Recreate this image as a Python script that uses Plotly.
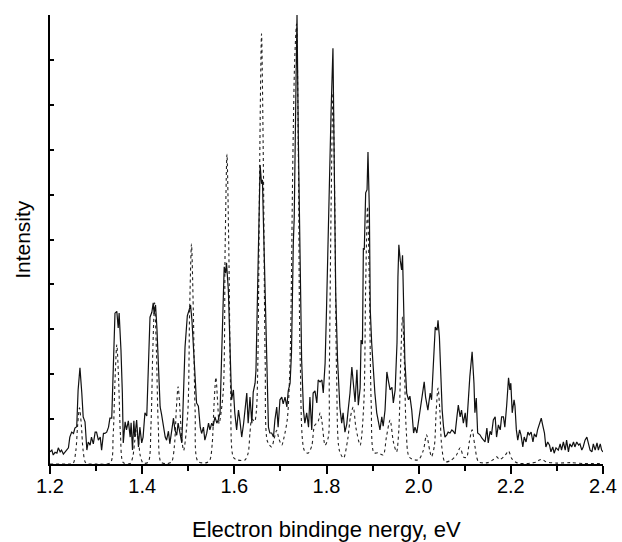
import plotly.graph_objects as go

# measured spectrum (solid line)
energy_exp = [
    1.200, 1.204, 1.207, 1.211, 1.215, 1.218, 1.222, 1.225, 1.229, 1.233,
    1.236, 1.240, 1.243, 1.247, 1.251, 1.254, 1.258, 1.261, 1.265, 1.269,
    1.272, 1.276, 1.280, 1.283, 1.287, 1.290, 1.294, 1.298, 1.301, 1.305,
    1.309, 1.312, 1.316, 1.319, 1.323, 1.327, 1.330, 1.334, 1.337, 1.341,
    1.345, 1.348, 1.350, 1.354, 1.357, 1.359, 1.363, 1.366, 1.370, 1.374,
    1.376, 1.379, 1.382, 1.384, 1.388, 1.392, 1.395, 1.399, 1.402, 1.406,
    1.410, 1.413, 1.417, 1.421, 1.424, 1.426, 1.429, 1.432, 1.435, 1.439,
    1.442, 1.446, 1.450, 1.453, 1.457, 1.460, 1.464, 1.468, 1.471, 1.475,
    1.478, 1.482, 1.486, 1.489, 1.493, 1.498, 1.502, 1.505, 1.508, 1.511,
    1.515, 1.518, 1.522, 1.526, 1.529, 1.533, 1.536, 1.540, 1.544, 1.547,
    1.551, 1.554, 1.558, 1.562, 1.565, 1.569, 1.572, 1.578, 1.581, 1.583,
    1.587, 1.591, 1.594, 1.598, 1.601, 1.605, 1.609, 1.612, 1.616, 1.620,
    1.623, 1.627, 1.630, 1.634, 1.638, 1.641, 1.645, 1.647, 1.651, 1.654,
    1.656, 1.659, 1.661, 1.662, 1.665, 1.668, 1.671, 1.674, 1.677, 1.681,
    1.685, 1.688, 1.692, 1.695, 1.699, 1.703, 1.706, 1.710, 1.714, 1.717,
    1.721, 1.724, 1.728, 1.730, 1.734, 1.736, 1.739, 1.743, 1.746, 1.750,
    1.753, 1.757, 1.761, 1.764, 1.768, 1.771, 1.775, 1.779, 1.782, 1.786,
    1.790, 1.793, 1.797, 1.800, 1.805, 1.810, 1.814, 1.817, 1.820, 1.824,
    1.829, 1.833, 1.836, 1.840, 1.844, 1.847, 1.851, 1.855, 1.858, 1.862,
    1.866, 1.869, 1.873, 1.875, 1.878, 1.880, 1.882, 1.885, 1.888, 1.890,
    1.893, 1.895, 1.898, 1.902, 1.905, 1.909, 1.913, 1.916, 1.920, 1.923,
    1.927, 1.931, 1.934, 1.938, 1.942, 1.945, 1.949, 1.953, 1.955, 1.957,
    1.960, 1.963, 1.965, 1.968, 1.970, 1.974, 1.978, 1.981, 1.985, 1.989,
    1.992, 1.996, 1.999, 2.003, 2.007, 2.012, 2.015, 2.020, 2.022, 2.025,
    2.028, 2.031, 2.034, 2.036, 2.040, 2.042, 2.045, 2.048, 2.051, 2.054,
    2.057, 2.061, 2.064, 2.068, 2.072, 2.075, 2.079, 2.083, 2.086, 2.090,
    2.093, 2.097, 2.101, 2.104, 2.108, 2.111, 2.116, 2.120, 2.122, 2.125,
    2.128, 2.133, 2.137, 2.140, 2.144, 2.148, 2.151, 2.155, 2.158, 2.162,
    2.166, 2.169, 2.173, 2.177, 2.180, 2.184, 2.187, 2.191, 2.193, 2.195,
    2.198, 2.200, 2.203, 2.207, 2.209, 2.212, 2.215, 2.219, 2.222, 2.226,
    2.229, 2.233, 2.237, 2.240, 2.244, 2.248, 2.251, 2.255, 2.258, 2.262,
    2.266, 2.269, 2.273, 2.276, 2.280, 2.284, 2.287, 2.291, 2.294, 2.298,
    2.303, 2.307, 2.310, 2.314, 2.318, 2.321, 2.325, 2.328, 2.332, 2.336,
    2.339, 2.343, 2.347, 2.350, 2.354, 2.357, 2.361, 2.365, 2.368, 2.372,
    2.376, 2.379, 2.383, 2.387, 2.390, 2.394, 2.397, 2.400,
]
intensity_exp = [
    2.7, 3.1, 2.0, 2.6, 2.4, 3.6, 2.7, 3.1, 2.2, 2.6,
    3.1, 3.6, 6.0, 7.1, 6.8, 8.0, 8.3, 16.5, 21.4, 15.8,
    10.5, 9.4, 3.1, 4.9, 4.2, 6.0, 4.5, 7.1, 7.1, 5.3,
    6.0, 3.1, 6.8, 6.8, 7.1, 8.2, 10.2, 10.2, 19.4, 33.6,
    34.0, 30.3, 33.6, 25.4, 15.8, 4.7, 9.4, 7.6, 9.6, 6.0,
    9.2, 3.1, 9.6, 6.0, 9.8, 3.8, 8.2, 4.7, 6.0, 11.4,
    10.7, 21.0, 32.7, 33.8, 35.9, 33.4, 35.4, 30.3, 23.2, 12.7,
    11.1, 8.2, 6.0, 5.3, 7.3, 4.5, 7.8, 10.2, 7.6, 6.4,
    9.1, 6.8, 4.7, 13.6, 26.0, 33.0, 34.7, 35.4, 32.0, 27.0,
    19.4, 13.6, 12.9, 8.2, 6.8, 8.2, 5.3, 6.8, 9.1, 7.6,
    9.1, 8.4, 10.5, 9.1, 9.8, 11.4, 22.5, 43.9, 42.5, 44.8,
    38.8, 27.0, 14.3, 16.5, 11.4, 7.6, 12.0, 9.8, 6.0, 8.9,
    12.0, 15.8, 9.1, 14.9, 9.1, 16.0, 18.0, 21.0, 41.6, 56.6,
    66.6, 62.4, 63.3, 58.8, 45.4, 30.5, 19.4, 8.2, 6.9, 6.9,
    6.0, 9.8, 12.7, 8.2, 14.3, 14.9, 13.4, 14.9, 12.7, 16.3,
    18.0, 24.7, 49.2, 55.0, 86.2, 100.0, 71.5, 38.0, 23.2, 12.0,
    9.1, 11.4, 8.2, 14.9, 7.6, 15.8, 16.3, 13.6, 18.7, 18.3,
    18.7, 15.8, 22.5, 34.3, 60.4, 78.8, 92.6, 64.0, 38.0, 23.2,
    12.7, 9.1, 11.4, 7.1, 8.9, 12.0, 15.8, 21.6, 18.7, 13.8,
    21.0, 13.1, 16.9, 27.6, 26.7, 48.1, 47.7, 60.4, 61.1, 69.5,
    56.6, 34.3, 27.0, 19.4, 15.8, 11.4, 9.1, 7.6, 10.5, 8.4,
    12.0, 20.5, 18.7, 16.5, 17.1, 13.6, 16.5, 27.0, 41.6, 48.8,
    45.4, 43.2, 46.5, 34.3, 23.2, 15.8, 14.3, 15.1, 12.0, 6.9,
    8.2, 6.9, 9.1, 12.7, 15.8, 18.3, 14.9, 12.0, 13.6, 15.8,
    14.3, 21.0, 27.0, 30.5, 29.8, 32.0, 28.3, 19.4, 12.0, 8.2,
    6.0, 6.5, 7.1, 6.9, 7.6, 7.3, 6.7, 10.5, 13.1, 10.5,
    12.0, 9.1, 11.4, 8.2, 15.8, 19.4, 25.0, 18.0, 11.4, 14.7,
    6.9, 6.5, 5.8, 5.3, 4.9, 8.0, 4.7, 7.3, 6.5, 9.8,
    10.5, 6.0, 8.7, 7.6, 10.5, 10.5, 8.2, 13.1, 18.0, 19.2,
    16.5, 18.0, 11.4, 14.3, 12.9, 7.6, 5.3, 7.6, 6.5, 3.8,
    6.0, 4.9, 7.1, 6.5, 7.1, 4.9, 6.7, 6.0, 7.6, 8.7,
    10.2, 8.7, 6.9, 3.8, 4.9, 4.2, 2.7, 3.8, 2.4, 3.6,
    3.1, 4.5, 3.1, 4.9, 3.1, 5.3, 2.7, 4.5, 3.8, 4.9,
    3.8, 4.9, 4.2, 4.5, 3.1, 3.8, 5.3, 6.0, 4.9, 3.1,
    2.7, 4.5, 3.1, 4.7, 3.1, 4.5, 3.1, 2.7,
]

# simulated spectrum (dotted line)
energy_sim = [
    1.200, 1.240, 1.250, 1.256, 1.260, 1.264, 1.268, 1.272, 1.278, 1.300,
    1.331, 1.337, 1.341, 1.345, 1.349, 1.353, 1.359, 1.374, 1.380, 1.384,
    1.388, 1.392, 1.396, 1.402, 1.413, 1.419, 1.423, 1.427, 1.431, 1.435,
    1.441, 1.455, 1.464, 1.470, 1.474, 1.478, 1.482, 1.486, 1.490, 1.499,
    1.503, 1.507, 1.511, 1.515, 1.521, 1.540, 1.547, 1.552, 1.556, 1.560,
    1.564, 1.567, 1.576, 1.580, 1.584, 1.588, 1.592, 1.598, 1.607, 1.623,
    1.630, 1.634, 1.638, 1.644, 1.648, 1.651, 1.655, 1.659, 1.663, 1.667,
    1.672, 1.681, 1.686, 1.692, 1.697, 1.703, 1.708, 1.715, 1.721, 1.727,
    1.731, 1.735, 1.739, 1.743, 1.752, 1.760, 1.768, 1.774, 1.782, 1.786,
    1.790, 1.797, 1.804, 1.806, 1.810, 1.814, 1.818, 1.822, 1.828, 1.837,
    1.846, 1.852, 1.858, 1.864, 1.873, 1.881, 1.885, 1.889, 1.893, 1.897,
    1.903, 1.912, 1.923, 1.930, 1.938, 1.945, 1.952, 1.957, 1.961, 1.965,
    1.969, 1.973, 1.980, 1.999, 2.010, 2.017, 2.024, 2.028, 2.034, 2.038,
    2.042, 2.046, 2.050, 2.057, 2.070, 2.082, 2.090, 2.098, 2.104, 2.110,
    2.116, 2.122, 2.130, 2.150, 2.162, 2.169, 2.176, 2.188, 2.195, 2.202,
    2.215, 2.255, 2.262, 2.269, 2.276, 2.300, 2.330, 2.360, 2.400,
]
intensity_sim = [
    0.0, 0.0, 0.1, 2.9, 8.7, 12.5, 8.7, 2.9, 0.2, 0.0,
    0.3, 6.3, 18.5, 26.6, 18.5, 6.3, 0.3, 0.1, 1.8, 5.2,
    7.5, 5.2, 1.8, 0.2, 0.4, 8.4, 25.0, 35.9, 25.0, 8.4,
    0.4, 0.1, 0.5, 4.1, 12.0, 17.2, 12.0, 5.5, 3.0, 11.5,
    34.1, 49.0, 34.1, 11.5, 0.6, 0.3, 0.9, 4.5, 13.4, 19.3,
    13.4, 9.0, 16.2, 48.0, 69.0, 48.0, 16.2, 1.5, 0.9, 0.9,
    2.4, 7.0, 10.0, 9.5, 12.0, 22.5, 66.7, 95.8, 66.7, 22.5,
    5.0, 3.8, 5.5, 7.5, 5.5, 4.2, 6.0, 10.0, 23.0, 68.2,
    90.0, 98.0, 68.2, 23.0, 3.0, 2.4, 4.0, 8.5, 9.5, 11.4,
    9.5, 4.2, 6.0, 19.4, 57.5, 82.6, 57.5, 19.4, 3.0, 1.3,
    5.5, 10.5, 12.7, 8.0, 4.2, 13.5, 39.9, 57.3, 39.9, 13.5,
    2.5, 2.5, 2.0, 6.0, 9.8, 5.0, 2.7, 7.7, 22.8, 32.8,
    22.8, 7.7, 1.5, 0.9, 3.0, 6.5, 3.0, 1.6, 4.0, 11.8,
    16.9, 11.8, 4.0, 0.5, 0.8, 2.0, 3.6, 1.5, 1.5, 5.0,
    7.6, 4.0, 0.5, 0.3, 1.0, 1.6, 1.0, 2.0, 2.9, 1.2,
    0.2, 0.4, 0.9, 1.0, 0.5, 0.2, 0.3, 0.1, 0.1,
]

x_tickvals = [1.2, 1.4, 1.6, 1.8, 2.0, 2.2, 2.4]
x_ticktext = ["1.2", "1.4", "1.6", "1.8", "2.0", "2.2", "2.4"]

font_family = "Liberation Sans, Arial, Helvetica, sans-serif"

fig = go.Figure()

fig.add_trace(go.Scatter(
    x=energy_sim, y=intensity_sim, mode="lines",
    line=dict(color="#222222", width=1.1, dash="dot", shape="spline", smoothing=0.8),
    showlegend=False, hoverinfo="skip",
))
fig.add_trace(go.Scatter(
    x=energy_exp, y=intensity_exp, mode="lines",
    line=dict(color="#111111", width=1.2),
    showlegend=False, hoverinfo="skip",
))

fig.update_layout(
    width=622, height=542,
    margin=dict(l=50, r=19, t=15, b=78),
    paper_bgcolor="white", plot_bgcolor="white",
    font=dict(family=font_family, size=20, color="black"),
    xaxis=dict(
        range=[1.2, 2.4], showgrid=False, zeroline=False, automargin=False,
        showline=True, linecolor="black", linewidth=1.5,
        ticks="outside", ticklen=8, tickwidth=1.5, tickcolor="black",
        tickvals=x_tickvals, ticktext=x_ticktext,
        tickfont=dict(size=20), ticklabelstandoff=-5,
        minor=dict(ticks="outside", ticklen=5, tickwidth=1.5, dtick=0.1,
                   tickcolor="black", showgrid=False),
    ),
    yaxis=dict(
        range=[0, 100], showgrid=False, zeroline=False, automargin=False,
        showline=True, linecolor="black", linewidth=1.5,
        ticks="inside", ticklen=4, tickwidth=1.5, tickcolor="black",
        dtick=10, showticklabels=False,
    ),
)

# axis titles
fig.add_annotation(
    text="Electron bindinge nergy, eV", xref="paper", yref="paper",
    x=0.5, y=-0.145, xanchor="center", yanchor="middle",
    showarrow=False, font=dict(size=22),
)
fig.add_annotation(
    text="Intensity", xref="paper", yref="paper",
    x=-0.05, y=0.5, xanchor="center", yanchor="middle", textangle=-90,
    showarrow=False, font=dict(size=21),
)

# drop the default page margin so the figure sits at the window's corner
fig.write_html("out.html", config={"displayModeBar": False},
               post_script="document.body.style.margin='0';")
